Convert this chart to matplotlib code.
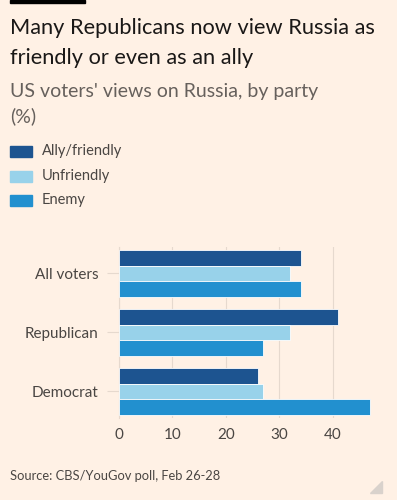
import matplotlib
matplotlib.use("Agg")
import matplotlib.pyplot as plt
import numpy as np

categories = ["All voters", "Republican", "Democrat"]
series_names = ["Ally/friendly", "Unfriendly", "Enemy"]
ally = [34, 41, 26]
unfriendly = [32, 32, 27]
enemy = [34, 27, 47]
xticks = [0, 10, 20, 30, 40]

colors = ["#1d5490", "#98d2ea", "#2290cf"]
bg = "#fff1e5"
txt = "#66605c"

plt.rcParams['font.family'] = ['Lato', 'DejaVu Sans']

fig = plt.figure(figsize=(3.97, 5.0), dpi=100, facecolor=bg)
ax = fig.add_axes([0.2997, 0.164, 0.6399, 0.3424])
ax.set_facecolor(bg)

y = np.arange(len(categories))
h = 0.265
for i, (vals, c) in enumerate(zip([ally, unfriendly, enemy], colors)):
    ax.barh(y + (i - 1) * h, vals, height=h, color=c, edgecolor="#fdfdfd",
            linewidth=0.6, zorder=3)

ax.set_xlim(0, 47.5)
ax.set_ylim(2.45, -0.45)
ax.set_yticks(y)
ax.set_yticklabels(categories, fontsize=11, color="#4a4643")
ax.set_xticks(xticks)
ax.set_xticklabels([str(t) for t in xticks], fontsize=11, color="#4a4643")
ax.tick_params(axis="y", length=9, color="#e6d9ce", pad=6, width=0.8)
ax.tick_params(axis="x", length=0, pad=7)
ax.grid(axis="x", color="#e6d9ce", linewidth=0.8, zorder=0)
for s in ["top", "right", "bottom"]:
    ax.spines[s].set_visible(False)
ax.spines["left"].set_color("#e6d9ce")
ax.spines["left"].set_linewidth(0.8)

# top black bar
fig.patches.append(matplotlib.patches.Rectangle((10/397, 1 - 3/500), 75/397, 3/500,
                                                transform=fig.transFigure,
                                                color="#000000"))

fig.text(10/397, 1 - 28/500, "Many Republicans now view Russia as",
         fontsize=15.7, color="#1a1817", va="center", ha="left")
fig.text(10/397, 1 - 58/500, "friendly or even as an ally",
         fontsize=15.7, color="#1a1817", va="center", ha="left")
fig.text(10/397, 1 - 92/500, "US voters' views on Russia, by party",
         fontsize=14, color=txt, va="center", ha="left")
fig.text(10/397, 1 - 116/500, "(%)", fontsize=14, color=txt, va="center", ha="left")

leg_y = [151, 176, 200]
for name, c, yy in zip(series_names, colors, leg_y):
    fig.patches.append(matplotlib.patches.Rectangle((10/397, 1 - (yy + 5.5)/500), 22/397, 11/500,
                                                    transform=fig.transFigure, color=c))
    fig.text(42/397, 1 - yy/500, name, fontsize=10.5, color="#4a4643", va="center", ha="left")

fig.text(10/397, 1 - 476/500, "Source: CBS/YouGov poll, Feb 26-28",
         fontsize=9.3, color="#4a4643", va="center", ha="left")

fig.patches.append(matplotlib.patches.Polygon([(370/397, 1 - 493/500), (382/397, 1 - 493/500),
                                               (382/397, 1 - 481/500)],
                                              transform=fig.transFigure, color="#d9d2cc"))

fig.savefig("out.png", dpi=100, facecolor=bg)
